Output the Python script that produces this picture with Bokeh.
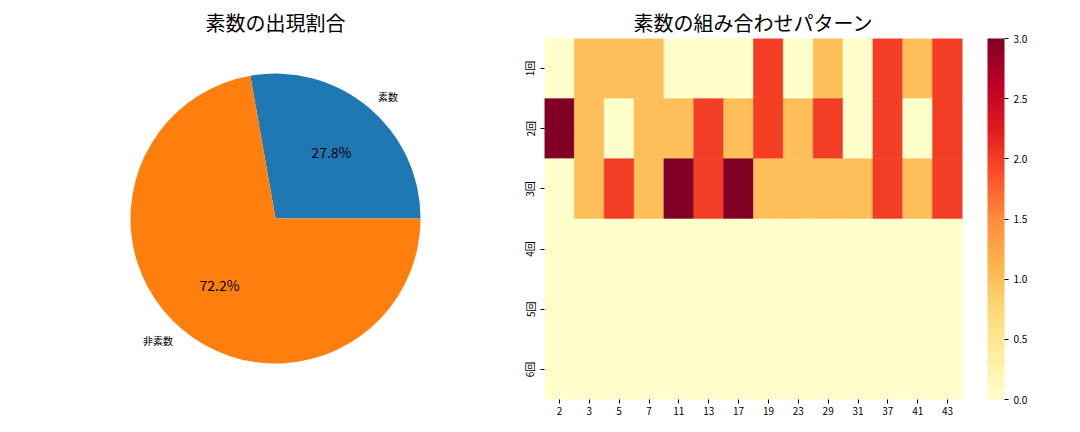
import math

from bokeh.core.properties import value
from bokeh.embed import file_html
from bokeh.layouts import row
from bokeh.models import (ColorBar, ColumnDataSource, FactorRange, LinearColorMapper,
                          PrintfTickFormatter, Range1d, SingleIntervalTicker)
from bokeh.plotting import figure
from bokeh.resources import INLINE

FONT = "Noto Sans CJK JP"

# 円グラフ
pie_labels = ["素数", "非素数"]
pie_counts = [5, 13]
pie_colors = ["#1f77b4", "#ff7f0e"]

# ヒートマップ
primes = ["2", "3", "5", "7", "11", "13", "17", "19", "23", "29", "31", "37", "41", "43"]
rounds = ["1回", "2回", "3回", "4回", "5回", "6回"]
round1 = [0, 1, 1, 1, 0, 0, 0, 2, 0, 1, 0, 2, 1, 2]
round2 = [3, 1, 0, 1, 1, 2, 1, 2, 1, 2, 0, 2, 0, 2]
round3 = [0, 1, 2, 1, 3, 2, 3, 1, 1, 1, 1, 2, 1, 2]
round4 = [0] * 14
round5 = [0] * 14
round6 = [0] * 14
counts = [round1, round2, round3, round4, round5, round6]

# YlOrRd
ylorrd = ["#ffffcc", "#ffeda0", "#fed976", "#feb24c", "#fd8d3c",
          "#fc4e2a", "#e31a1c", "#bd0026", "#800026"]


def make_palette(stops, n=256):
    rgb = [tuple(int(c[i:i + 2], 16) for i in (1, 3, 5)) for c in stops]
    out = []
    for k in range(n):
        t = k / (n - 1) * (len(rgb) - 1)
        i = min(int(t), len(rgb) - 2)
        f = t - i
        c = [round(rgb[i][j] + (rgb[i + 1][j] - rgb[i][j]) * f) for j in range(3)]
        out.append("#%02x%02x%02x" % tuple(c))
    return out


def style_title(p, align="center", offset=0):
    p.title.align = align
    p.title.offset = offset
    p.title.text_font = FONT
    p.title.text_font_size = "20px"
    p.title.text_font_style = "normal"
    p.title.text_color = "black"
    p.title.standoff = 4


# ---- pie ----
R = 145
p1 = figure(frame_width=512, frame_height=361, x_range=Range1d(-275 / R, 237 / R),
            y_range=Range1d(-181 / R, 180 / R), x_axis_type=None, y_axis_type=None,
            min_border_left=0, min_border_right=0, min_border_top=38, min_border_bottom=25,
            title="素数の出現割合", toolbar_location=None, output_backend="svg")
style_title(p1, "left", 205)
p1.outline_line_color = None
p1.grid.visible = False

total = sum(pie_counts)
starts, ends, lx, ly, la, px, py, pct = [], [], [], [], [], [], [], []
acc = 0.0
for c in pie_counts:
    a0 = acc / total * 2 * math.pi
    acc += c
    a1 = acc / total * 2 * math.pi
    mid = (a0 + a1) / 2
    starts.append(a0)
    ends.append(a1)
    lx.append(1.1 * math.cos(mid))
    ly.append(1.1 * math.sin(mid))
    la.append("left" if math.cos(mid) > 0 else "right")
    px.append(0.6 * math.cos(mid))
    py.append(0.6 * math.sin(mid))
    pct.append("%.1f%%" % (c / total * 100))

src = ColumnDataSource(dict(start=starts, end=ends, color=pie_colors, lx=lx, ly=ly,
                            la=la, label=pie_labels, px=px, py=py, pct=pct))
p1.wedge(x=0, y=0, radius=1, start_angle="start", end_angle="end",
         fill_color="color", line_color=None, source=src)
p1.text(x="lx", y="ly", text="label", text_align="la", text_baseline="middle",
        text_font=value(FONT), text_font_size="10px", text_color="black", source=src)
p1.text(x="px", y="py", text="pct", text_align="center", text_baseline="middle",
        text_font=value(FONT), text_font_size="14px", text_color="black", source=src)

# ---- heatmap ----
mapper = LinearColorMapper(palette=make_palette(ylorrd), low=0, high=3)
hx, hy, hv = [], [], []
for r, vals in zip(rounds, counts):
    for pr, v in zip(primes, vals):
        hx.append(pr)
        hy.append(r)
        hv.append(v)

p2 = figure(x_range=FactorRange(*primes), y_range=FactorRange(*reversed(rounds)),
            frame_width=418, frame_height=361, min_border_left=32, min_border_top=38,
            min_border_bottom=25, min_border_right=0, title="素数の組み合わせパターン",
            toolbar_location=None, output_backend="svg")
style_title(p2)
p2.outline_line_color = None
p2.grid.visible = False
p2.rect(x="x", y="y", width=1, height=1, line_width=0.6,
        line_color={"field": "v", "transform": mapper},
        fill_color={"field": "v", "transform": mapper},
        source=ColumnDataSource(dict(x=hx, y=hy, v=hv)))
for ax in (p2.xaxis[0], p2.yaxis[0]):
    ax.axis_line_color = None
    ax.major_tick_in = 0
    ax.major_tick_out = 4
    ax.major_tick_line_color = "black"
    ax.major_label_text_font = FONT
    ax.major_label_text_font_size = "10px"
    ax.major_label_text_color = "black"
    ax.major_label_standoff = 3
p2.yaxis.major_label_orientation = "vertical"

cb = ColorBar(color_mapper=mapper, width=17, height=361, margin=0, padding=0,
              location=(25, 0), ticker=SingleIntervalTicker(interval=0.5),
              formatter=PrintfTickFormatter(format="%.1f"),
              major_label_text_font=FONT, major_label_text_font_size="10px",
              major_label_text_color="black",
              major_tick_in=0, major_tick_out=4, major_tick_line_color="black",
              bar_line_color=None, border_line_color=None, background_fill_color=None)
p2.add_layout(cb, "right")

layout = row(p1, p2)
open("out.html", "w").write(file_html(layout, INLINE))
